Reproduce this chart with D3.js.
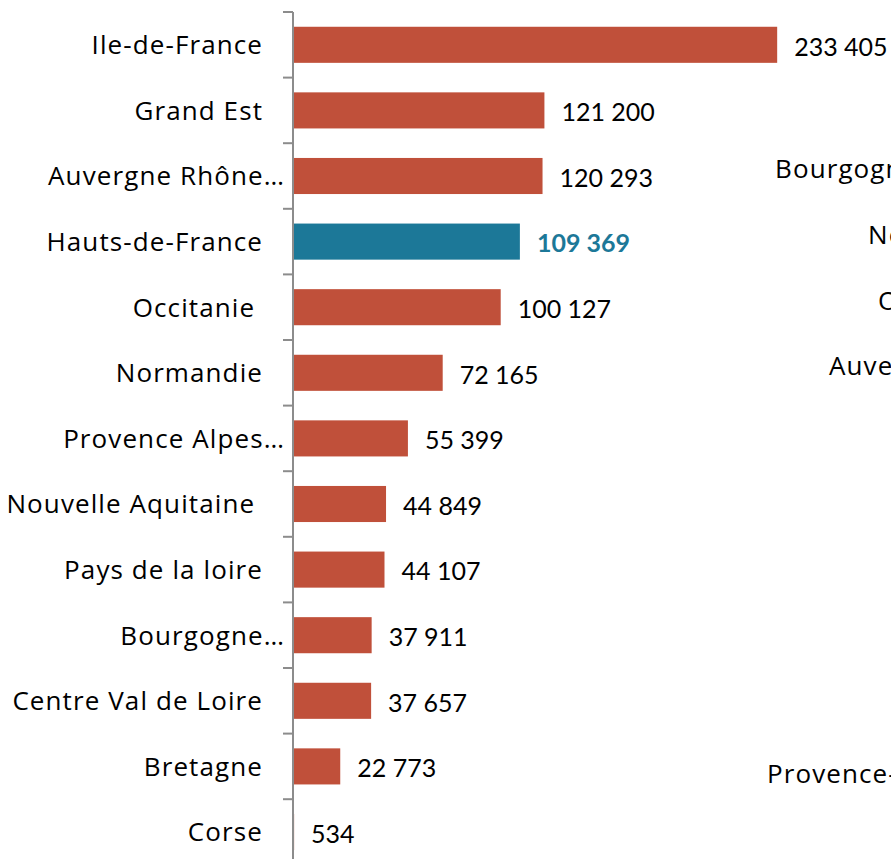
<!DOCTYPE html>
<html>
<head>
<meta charset="utf-8">
<script src="https://cdn.jsdelivr.net/npm/d3@7"></script>
<style>
  body { margin: 0; background: #fff; }
  svg { display: block; font-family: Lato, "Open Sans", sans-serif; }
</style>
</head>
<body>
<div id="chart"></div>
<script>
const regions = ['Ile-de-France', 'Grand Est', 'Auvergne Rhône…', 'Hauts-de-France', 'Occitanie ',
  'Normandie', 'Provence Alpes…', 'Nouvelle Aquitaine ', 'Pays de la loire', 'Bourgogne…',
  'Centre Val de Loire', 'Bretagne', 'Corse']
const values = [233405, 121200, 120293, 109369, 100127, 72165, 55399, 44849, 44107, 37911, 37657, 22773, 534]
const highlight = 'Hauts-de-France'

// labels of the neighbouring chart, cut by the right edge
const sideLabels = ['Bourgogne-Franche-Comté', 'Normandie', 'Occitanie', 'Auvergne-Rhône-Alpes', 'Provence-Alpes-Côte d\'Azur']
const sideRows = [2, 3, 4, 5, 11]
const sideX = [775, 868, 878, 829, 767]

const W = 891, H = 859
const AXIS_X = 293
const TOP = 12
const STEP = 65.6

const fmt = d3.formatLocale({ decimal: ',', thousands: ' ', grouping: [3], currency: ['', ' €'] }).format(',d')

const svg = d3.select('#chart').append('svg')
  .attr('width', W).attr('height', H)

const x = d3.scaleLinear().domain([0, 250000]).range([AXIS_X, AXIS_X + 518.6])
const y = d3.scaleBand().domain(regions)
  .range([TOP, TOP + STEP * regions.length])
  .paddingInner(0.45).paddingOuter(0.225)

const data = regions.map((r, i) => ({ region: r, value: values[i] }))

// bars
svg.append('g').selectAll('rect').data(data).join('rect')
  .attr('x', x(0))
  .attr('y', d => y(d.region))
  .attr('width', d => x(d.value) - x(0))
  .attr('height', y.bandwidth())
  .attr('fill', d => d.region === highlight ? '#1c7898' : '#c0503a')

// value labels
svg.append('g').selectAll('text').data(data).join('text')
  .attr('x', d => x(d.value) + 17)
  .attr('y', d => y(d.region) + y.bandwidth() / 2 + 2)
  .attr('dy', '0.35em')
  .attr('font-size', 25)
  .attr('font-weight', d => d.region === highlight ? 'bold' : 'normal')
  .attr('fill', d => d.region === highlight ? '#1c7898' : '#000')
  .text(d => fmt(d.value))

// category labels (truncated ones overflow toward the axis, like excel does)
svg.append('g').selectAll('text').data(data).join('text')
  .attr('x', d => d.region.endsWith('…') ? AXIS_X - 8 : AXIS_X - 30)
  .attr('y', d => y(d.region) + y.bandwidth() / 2)
  .attr('dy', '0.36em')
  .attr('text-anchor', 'end')
  .attr('font-family', '"Open Sans", sans-serif')
  .attr('font-size', 26)
  .attr('letter-spacing', 1.1)
  .attr('fill', '#000')
  .style('white-space', 'pre')
  .text(d => d.region)

// axis line + ticks at band boundaries
const axis = svg.append('g').attr('stroke', '#8c8c8c').attr('stroke-width', 2)
axis.append('line')
  .attr('x1', AXIS_X).attr('x2', AXIS_X)
  .attr('y1', y.range()[0]).attr('y2', H)
axis.selectAll('.tick').data(d3.range(regions.length + 1)).join('line')
  .attr('class', 'tick')
  .attr('x1', AXIS_X - 10).attr('x2', AXIS_X)
  .attr('y1', i => y.range()[0] + i * y.step())
  .attr('y2', i => y.range()[0] + i * y.step())

// neighbouring chart labels
svg.append('g').selectAll('text').data(sideLabels).join('text')
  .attr('x', (d, i) => sideX[i])
  .attr('y', (d, i) => y(regions[sideRows[i]]) + y.bandwidth() / 2 + (i === 4 ? 7 : -7))
  .attr('dy', '0.36em')
  .attr('font-family', '"Open Sans", sans-serif')
  .attr('font-size', 26)
  .attr('letter-spacing', 1.1)
  .attr('fill', '#000')
  .text(d => d)
</script>
</body>
</html>
